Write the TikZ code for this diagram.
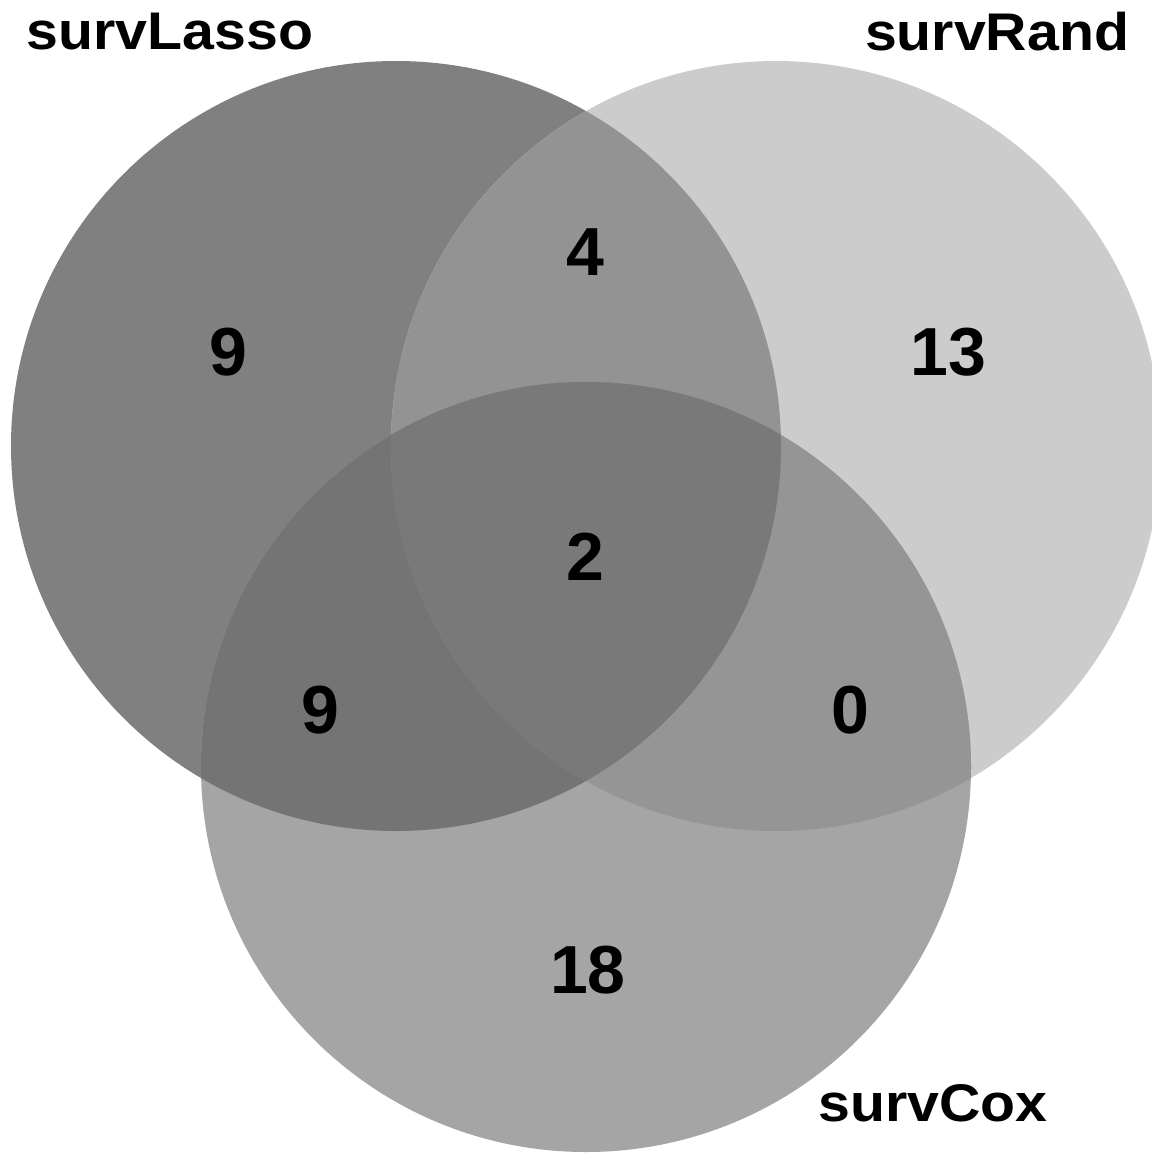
\documentclass[tikz,border=0pt]{standalone}
\usepackage{fontspec}
\setmainfont{Liberation Sans}
\usepackage{tikz}

\definecolor{lassoGray}{HTML}{808080}
\definecolor{randGray}{HTML}{CCCCCC}
\definecolor{coxGray}{HTML}{A5A5A5}
\definecolor{lassoRandGray}{HTML}{939393}
\definecolor{lassoCoxGray}{HTML}{747474}
\definecolor{randCoxGray}{HTML}{959595}
\definecolor{allGray}{HTML}{797979}

\begin{document}
\begin{tikzpicture}[
		x=1pt, y=-1pt,
		every node/.style={inner sep=0pt, font=\bfseries\fontsize{68}{68}\selectfont},
		set_label/.style={font=\bfseries\fontsize{53}{53}\selectfont, xscale=1.08}
	]
  \useasboundingbox (0,0) rectangle (1151,1156);
  \coordinate (lasso) at (396,446);
  \coordinate (rand) at (776,446);
  \coordinate (cox) at (586,767);
  \def\rad{385pt}
  % single sets
  \fill[lassoGray] (lasso) circle [radius=\rad];
  \fill[randGray] (rand) circle [radius=\rad];
  \fill[coxGray] (cox) circle [radius=\rad];
  % pairwise overlaps
  \begin{scope}
    \clip (lasso) circle [radius=\rad];
    \fill[lassoRandGray] (rand) circle [radius=\rad];
    \fill[lassoCoxGray] (cox) circle [radius=\rad];
  \end{scope}
  \begin{scope}
    \clip (rand) circle [radius=\rad];
    \fill[randCoxGray] (cox) circle [radius=\rad];
  \end{scope}
  % all three
  \begin{scope}
    \clip (lasso) circle [radius=\rad];
    \clip (rand) circle [radius=\rad];
    \fill[allGray] (cox) circle [radius=\rad];
  \end{scope}
  % counts
  \node (n_lasso) at (228,352) {9};
  \node (n_lasso_rand) at (585,252) {4};
  \node (n_rand) at (948,352) {13};
  \node (n_all) at (585,557) {2};
  \node (n_lasso_cox) at (320,710) {9};
  \node (n_rand_cox) at (850,710) {0};
  \node (n_cox) at (588,970) {18};
  % set names
  \node (lasso_label) [set_label] at (170,32) {survLasso};
  \node (rand_label) [set_label] at (997,32) {survRand};
  \node (cox_label) [set_label] at (933,1103) {survCox};
\end{tikzpicture}
\end{document}
